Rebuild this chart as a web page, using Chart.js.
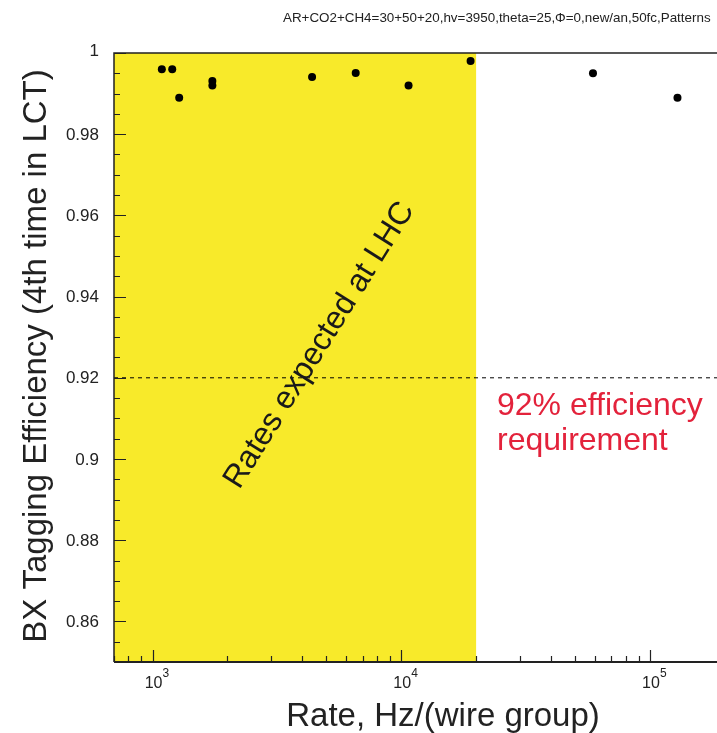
<!DOCTYPE html>
<html>
<head>
<meta charset="utf-8">
<script src="https://cdn.jsdelivr.net/npm/chart.js@4"></script>
<style>
  body { margin: 0; background: #fff; }
  #wrap { width: 717px; height: 733px; }
</style>
</head>
<body>
<div id="wrap"><canvas id="eff" width="717" height="733"></canvas></div>
<script>
// measured points: wire group rate (Hz) vs BX tagging efficiency
const rates = [1090, 1200, 1280, 1740, 1740, 4380, 6560, 10700, 19000, 59000, 129000];
const efficiency = [0.996, 0.996, 0.989, 0.9931, 0.992, 0.9941, 0.9951, 0.992, 0.998, 0.995, 0.989];

// axes
const xRange = [700, 186000];
const yRange = [0.85, 1.0];
const yTicks = [0.86, 0.88, 0.9, 0.92, 0.94, 0.96, 0.98, 1];
const yTickLabels = ['0.86', '0.88', '0.9', '0.92', '0.94', '0.96', '0.98', '1'];
const yMinorStep = 0.005;
const xDecades = [3, 4, 5];

// LHC rate band and the efficiency requirement
const lhcBand = [700, 20000];
const requirement = 0.92;

const SANS = '"Liberation Sans", Arial, Helvetica, sans-serif';
const YELLOW = '#f8ea2a';

const decor = {
  id: 'decor',
  beforeDatasetsDraw(chart) {
    const { ctx, chartArea: a, scales: { x } } = chart;
    const x0 = x.getPixelForValue(lhcBand[0]);
    const x1 = x.getPixelForValue(lhcBand[1]);
    ctx.save();
    ctx.fillStyle = YELLOW;
    ctx.fillRect(x0, a.top, x1 - x0, a.bottom - a.top);
    ctx.restore();
  },
  afterDatasetsDraw(chart) {
    const { ctx, chartArea: a, scales: { x, y } } = chart;
    ctx.save();

    // frame: top, left, bottom
    ctx.strokeStyle = '#222';
    ctx.lineWidth = 1.5;
    ctx.beginPath();
    ctx.moveTo(a.right, a.top); ctx.lineTo(a.left, a.top);
    ctx.lineTo(a.left, a.bottom);
    ctx.stroke();
    ctx.lineWidth = 2;
    ctx.beginPath();
    ctx.moveTo(a.left, a.bottom); ctx.lineTo(a.right, a.bottom);
    ctx.stroke();

    // y ticks (inward)
    ctx.lineWidth = 1.2;
    ctx.beginPath();
    for (let v = yRange[0]; v <= yRange[1] + 1e-9; v += yMinorStep) {
      const py = Math.round(y.getPixelForValue(v)) + 0.5;
      const major = yTicks.some(t => Math.abs(t - v) < 1e-6);
      ctx.moveTo(a.left, py);
      ctx.lineTo(a.left + (major ? 12 : 6), py);
    }
    ctx.stroke();

    // x ticks (inward), log decades with 2..9 minors
    ctx.beginPath();
    for (let d = 2; d <= 5; d++) {
      for (let m = 1; m <= 9; m++) {
        const v = m * Math.pow(10, d);
        if (v < xRange[0] || v > xRange[1]) continue;
        const px = Math.round(x.getPixelForValue(v)) + 0.5;
        ctx.moveTo(px, a.bottom);
        ctx.lineTo(px, a.bottom - (m === 1 ? 12 : 6));
      }
    }
    ctx.stroke();

    // y tick labels
    ctx.fillStyle = '#222';
    ctx.font = '17px ' + SANS;
    ctx.textAlign = 'right';
    ctx.textBaseline = 'middle';
    yTicks.forEach((t, i) => {
      ctx.fillText(yTickLabels[i], 99, y.getPixelForValue(t) + (t === 1 ? -2 : 1));
    });

    // x tick labels 10^n
    ctx.textBaseline = 'alphabetic';
    xDecades.forEach(d => {
      const px = x.getPixelForValue(Math.pow(10, d));
      ctx.font = '16px ' + SANS;
      ctx.textAlign = 'center';
      ctx.fillText('10', px + 1, 688);
      ctx.font = '12px ' + SANS;
      ctx.textAlign = 'left';
      ctx.fillText(String(d), px + 10, 677);
    });

    // axis titles
    ctx.font = '33px ' + SANS;
    ctx.textAlign = 'center';
    ctx.fillText('Rate, Hz/(wire group)', 443, 726);

    ctx.save();
    ctx.translate(46, 356);
    ctx.rotate(-Math.PI / 2);
    ctx.font = '33px ' + SANS;
    ctx.fillText('BX Tagging Efficiency (4th time in LCT)', 0, 0);
    ctx.restore();

    // band label
    ctx.save();
    ctx.translate(327, 350);
    ctx.rotate(-58 * Math.PI / 180);
    ctx.font = '32px ' + SANS;
    ctx.fillStyle = '#1a1a1a';
    ctx.fillText('Rates expected at LHC', 0, 0);
    ctx.restore();

    // requirement note
    ctx.fillStyle = '#e3223b';
    ctx.font = '32px ' + SANS;
    ctx.textAlign = 'left';
    ctx.fillText('92% efficiency', 497, 415);
    ctx.fillText('requirement', 497, 450);

    // run conditions
    ctx.fillStyle = '#222';
    ctx.font = '13.4px ' + SANS;
    ctx.textAlign = 'left';
    ctx.textBaseline = 'middle';
    ctx.fillText('AR+CO2+CH4=30+50+20,hv=3950,theta=25,\u03A6=0,new/an,50fc,Patterns', 283, 18);

    ctx.restore();
  }
};

new Chart(document.getElementById('eff'), {
  type: 'scatter',
  data: {
    datasets: [
      {
        label: 'efficiency',
        data: rates.map((r, i) => ({ x: r, y: efficiency[i] })),
        backgroundColor: '#000',
        borderColor: '#000',
        pointRadius: 4,
        pointBorderWidth: 0
      },
      {
        type: 'line',
        label: 'requirement',
        data: [{ x: xRange[0], y: requirement }, { x: xRange[1], y: requirement }],
        borderColor: '#000',
        borderWidth: 1,
        borderDash: [4, 4],
        pointRadius: 0,
        fill: false
      }
    ]
  },
  options: {
    responsive: false,
    animation: false,
    devicePixelRatio: 1,
    layout: { autoPadding: false, padding: { left: 114, top: 53, right: 0, bottom: 71 } },
    plugins: { legend: { display: false }, tooltip: { enabled: false } },
    scales: {
      x: { type: 'logarithmic', min: xRange[0], max: xRange[1], display: false },
      y: { type: 'linear', min: yRange[0], max: yRange[1], display: false }
    }
  },
  plugins: [decor]
});
</script>
</body>
</html>
